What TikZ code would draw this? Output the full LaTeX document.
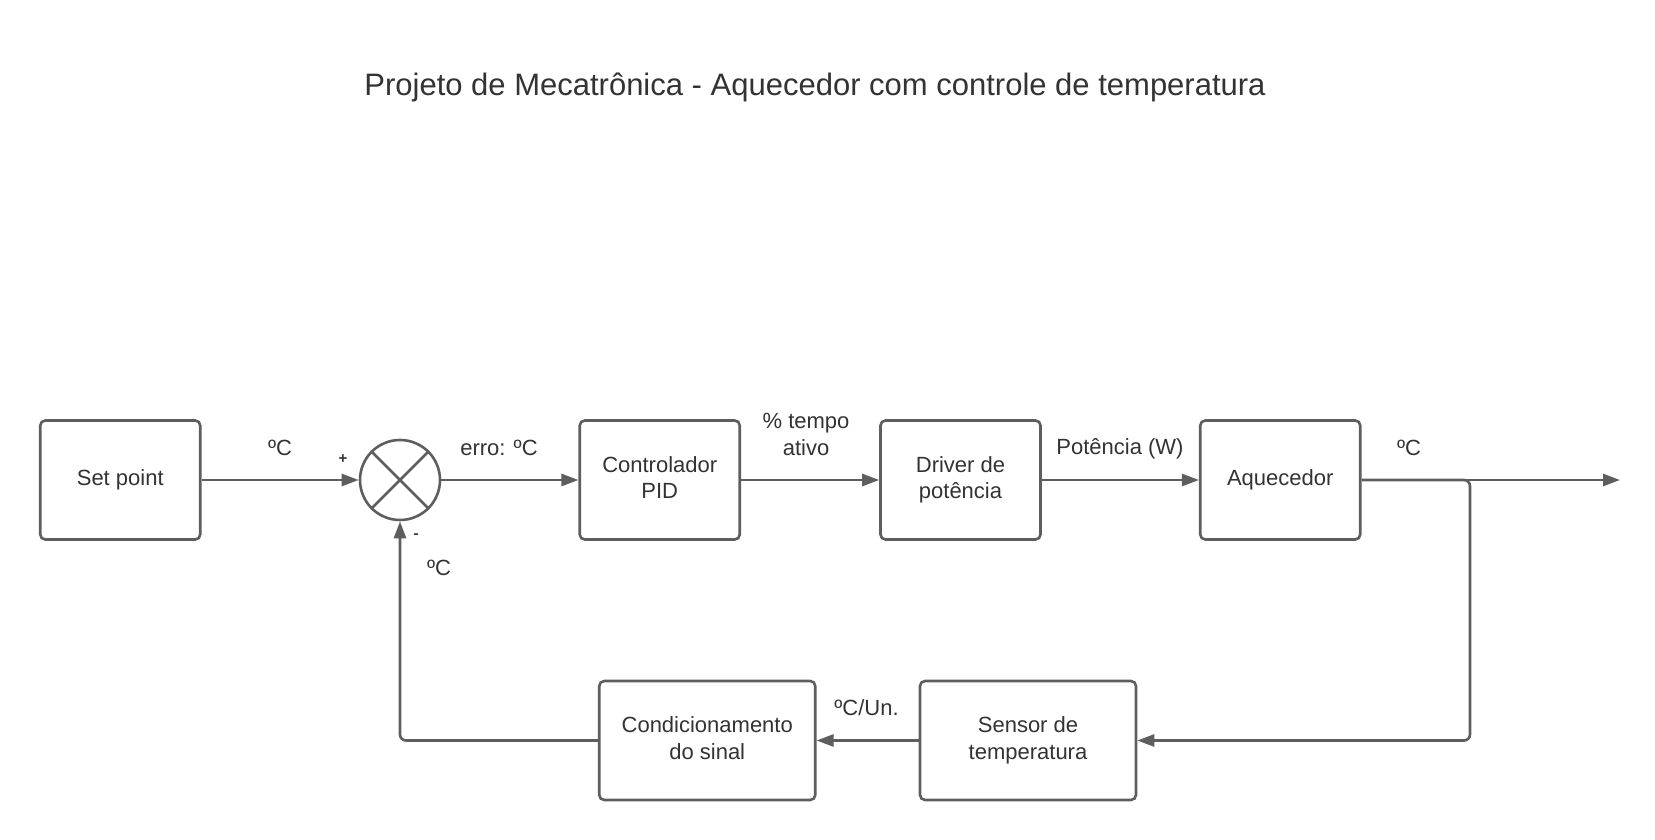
\documentclass[tikz,border=0pt]{standalone}
\usepackage{fontspec}
\setmainfont{Liberation Sans}
\usetikzlibrary{arrows.meta}
\definecolor{ln}{HTML}{5E5E5E}
\definecolor{tx}{HTML}{333333}
\newcommand\mytwolines[2]{\raisebox{3pt}{\begin{tabular}{@{}c@{}}#1\\#2\end{tabular}}}
\tikzset{
  blk/.style={draw=ln, line width=2.6pt, rounded corners=5pt, fill=white, text=tx,
    minimum width=#1, minimum height=119pt, align=center, font=\fontsize{22}{26.5}\selectfont, inner sep=0pt},
  blk/.default=160pt,
  conn/.style={draw=ln, line width=2.6pt, -{Triangle[length=17pt,width=12pt]}},
  lbl/.style={text=tx, font=\fontsize{22}{26.5}\selectfont, align=center, inner sep=0pt},
  sgn/.style={text=tx, font=\fontsize{15}{15}\bfseries\selectfont, inner sep=0pt}
}
\begin{document}
\begin{tikzpicture}[x=1pt,y=-1pt]
\useasboundingbox[fill=white] (0,0) rectangle (1655,840);
\node[text=tx, font=\fontsize{31}{37}\selectfont] (title) at (815,87.5) {Projeto de Mecatrônica - Aquecedor com controle de temperatura};

\node[blk] (sp) at (120.25,480) {Set point};
\node[draw=ln, line width=2.6pt, circle, minimum size=80pt, inner sep=0pt, fill=white] (sum) at (400,480) {};
\draw[ln, line width=2.6pt] (sum.north west) -- (sum.south east) (sum.north east) -- (sum.south west);
\node[blk] (pid) at (659.75,480) {\mytwolines{Controlador}{PID}};
\node[blk] (drv) at (960.5,480) {\mytwolines{Driver de}{potência}};
\node[blk] (aq) at (1280.25,480) {Aquecedor};
\node[blk=216pt] (sen) at (1028,740.5) {\mytwolines{Sensor de}{temperatura}};
\node[blk=216pt] (cond) at (707.25,740.5) {\mytwolines{Condicionamento}{do sinal}};
\coordinate (out) at (1620,480);
\coordinate (br) at (1470,480);

\draw[conn] (sp.east) -- (sum.west);
\draw[conn] (sum.east) -- (pid.west);
\draw[conn] (pid.east) -- (drv.west);
\draw[conn] (drv.east) -- (aq.west);
\draw[conn] (aq.east) -- (out);
\draw[conn, rounded corners=6pt] (aq.east) -- (br) |- (sen.east);
\draw[conn] (sen.west) -- (cond.west -| cond.east);
\draw[conn, rounded corners=6pt] (cond.west) -| (sum.south);

\node[lbl] (l1) at (280,447.5) {ºC};
\node[sgn] (plus) at (343,459) {+};
\node[sgn] (minus) at (416,536) {-};
\node[lbl] (l2) at (439,568) {ºC};
\node[lbl] (l3) at (499,447.5) {erro: ºC};
\node[lbl] (l4) at (806,434.5) {\% tempo\\ativo};
\node[lbl] (l5) at (1120,449) {Potência (W)};
\node[lbl] (l6) at (1409,447.5) {ºC};
\node[lbl] (l7) at (866.5,708) {ºC/Un.};
\end{tikzpicture}
\end{document}
